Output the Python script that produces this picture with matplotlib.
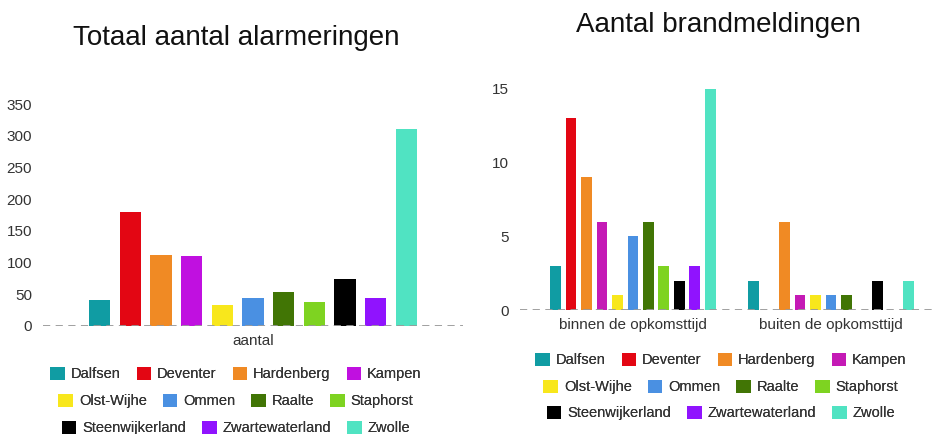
import matplotlib.pyplot as plt
from matplotlib.patches import Patch

plt.rcParams['font.family'] = ['Liberation Sans', 'DejaVu Sans']

# gemeenten en kleuren
gemeenten = ['Dalfsen', 'Deventer', 'Hardenberg', 'Kampen', 'Olst-Wijhe', 'Ommen',
             'Raalte', 'Staphorst', 'Steenwijkerland', 'Zwartewaterland', 'Zwolle']
kleuren_links = ['#109ca3', '#e30613', '#f08a24', '#c010e0', '#f8e71c', '#4a90e2',
                 '#417505', '#7ed321', '#000000', '#9013fe', '#50e3c2']
kleuren_rechts = ['#109ca3', '#e30613', '#f08a24', '#c41ab5', '#f8e71c', '#4a90e2',
                  '#417505', '#7ed321', '#000000', '#9013fe', '#50e3c2']

# data
alarmeringen = [41, 180, 111, 110, 32, 44, 53, 37, 74, 44, 310]
groepen = ['binnen de opkomsttijd', 'buiten de opkomsttijd']
binnen = [3, 13, 9, 6, 1, 5, 6, 3, 2, 3, 15]
buiten = [2, 0, 6, 1, 1, 1, 1, 0, 2, 0, 2]

tekstkleur = '#333333'


def opmaak(ax):
    for s in ax.spines.values():
        s.set_visible(False)
    ax.tick_params(length=0, labelsize=11, labelcolor=tekstkleur)
    ax.tick_params(axis='y', pad=8)
    ax.tick_params(axis='x', pad=6)
    ax.axhline(0, color='#999999', lw=1.3, ls=(0, (4, 3)), zorder=5)


def legenda(fig, kleuren, x, ys):
    rijen = [range(0, 4), range(4, 8), range(8, 11)]
    for rij, y in zip(rijen, ys):
        handles = [Patch(facecolor=kleuren[i], edgecolor='none') for i in rij]
        labels = [gemeenten[i] for i in rij]
        leg = fig.legend(handles, labels, loc='center', bbox_to_anchor=(x, y),
                         ncol=len(labels), frameon=False, fontsize=10.5,
                         handlelength=1.0, handleheight=1.0, handletextpad=0.4,
                         columnspacing=1.1, labelcolor=tekstkleur)
        fig.add_artist(leg)


fig = plt.figure(figsize=(9.38, 4.34), dpi=100)

# linker grafiek
ax1 = fig.add_axes([43 / 938, 1 - 325.7 / 434, 420 / 938, 221.7 / 434])
slot = 0.073
for i, (naam, waarde) in enumerate(zip(gemeenten, alarmeringen)):
    ax1.bar((i - 5) * slot, waarde, width=slot * 0.69, color=kleuren_links[i], zorder=3)
ax1.set_xlim(-0.5, 0.5)
ax1.set_ylim(0, 350)
ax1.set_yticks(range(0, 351, 50))
ax1.set_xticks([0])
ax1.set_xticklabels(['aantal'])
opmaak(ax1)
fig.text(236 / 938, 1 - 38 / 434, 'Totaal aantal alarmeringen', ha='center', va='center',
         fontsize=20, color='#111111')
legenda(fig, kleuren_links, 236 / 938, [1 - 374 / 434, 1 - 401 / 434, 1 - 428 / 434])

# rechter grafiek
ax2 = fig.add_axes([520 / 938, 1 - 310 / 434, 417 / 938, 221 / 434])
slot2 = 0.078
for g, reeks in enumerate([binnen, buiten]):
    for i, waarde in enumerate(reeks):
        if waarde > 0:
            ax2.bar(g + (i - 5) * slot2, waarde, width=slot2 * 0.69,
                    color=kleuren_rechts[i], zorder=3)
ax2.set_xlim(-0.57, 1.535)
ax2.set_ylim(0, 15)
ax2.set_yticks([0, 5, 10, 15])
ax2.set_xticks([0, 1])
ax2.set_xticklabels(groepen)
opmaak(ax2)
fig.text(718 / 938, 1 - 25 / 434, 'Aantal brandmeldingen', ha='center', va='center',
         fontsize=20, color='#111111')
legenda(fig, kleuren_rechts, 721 / 938, [1 - 360 / 434, 1 - 387 / 434, 1 - 413 / 434])

fig.savefig('out.png', dpi=100, facecolor='white')
